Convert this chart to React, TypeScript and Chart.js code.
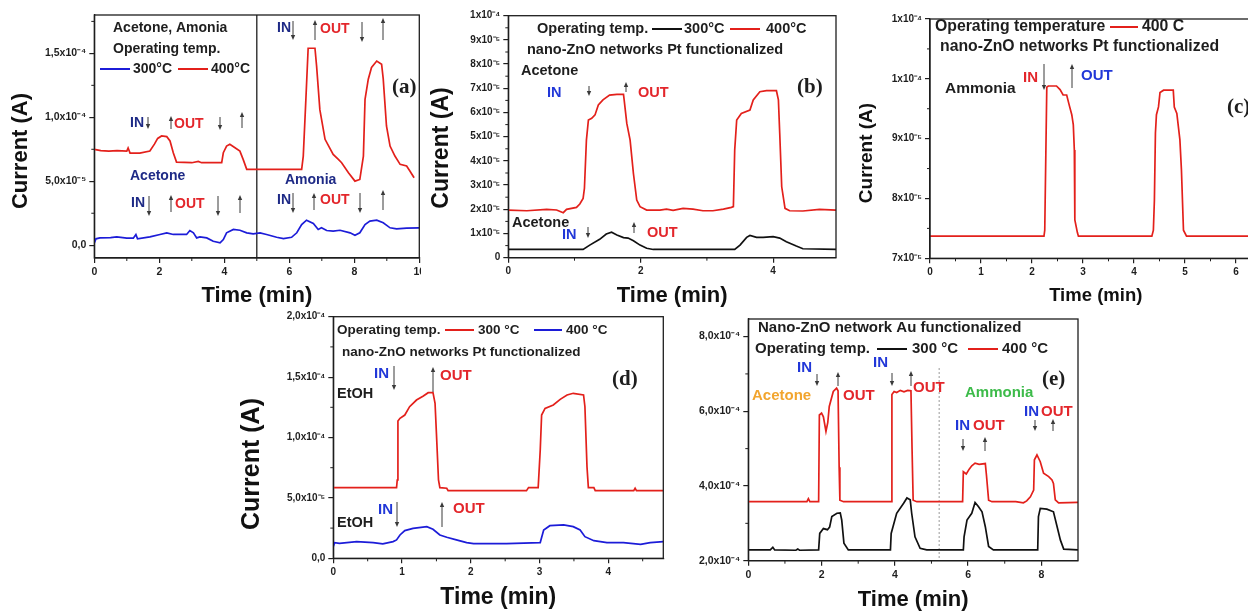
import React, { useEffect, useRef } from 'react';
import { Chart, registerables } from 'chart.js';

Chart.register(...registerables);

const SANS = '"Liberation Sans", Arial, Helvetica, sans-serif';
const SERIF = '"Liberation Serif", "Times New Roman", serif';

const RED = '#e3201b';
const BLUE = '#1c1cd8';
const BLACK = '#111111';
const NAVY = '#1e2a86';
const TXT_BLUE = '#2137d8';
const TXT_RED = '#e3262b';
const ORANGE = '#f2a52e';
const GREEN = '#3dbb4a';
const INK = '#1e1e1e';

type Pt = [number, number];

// ---------------- Panel (a) data ----------------
const aTimeTicks = [0, 2, 4, 6, 8, 10];
const aTimeLabels = ['0', '2', '4', '6', '8', '10'];
const aTimeMinor = [1, 3, 5, 7, 9];
const aCurrentTicks = [0, 5e-5, 1e-4, 1.5e-4];
const aCurrentLabels = ['0,0', '5,0x10⁻⁵', '1,0x10⁻⁴', '1,5x10⁻⁴'];
const aCurrentMinor = [2.5e-5, 7.5e-5, 1.25e-4, 1.75e-4];
const a400C: Pt[] = [
  [0, 7.49e-5], [0.2, 7.4e-5], [0.45, 7.35e-5], [0.7, 7.4e-5], [1.0, 7.36e-5], [1.04, 7.6e-5], [1.1, 7.2e-5],
  [1.4, 7.2e-5], [1.71, 7.36e-5], [1.85, 7.9e-5], [1.95, 8.35e-5], [2.07, 8.54e-5], [2.23, 8.49e-5],
  [2.33, 8.15e-5], [2.43, 7.23e-5], [2.53, 6.5e-5], [3.0, 6.45e-5], [3.2, 6.55e-5], [3.3, 6.45e-5],
  [3.92, 6.45e-5], [3.97, 7.23e-5], [4.07, 7.75e-5], [4.17, 7.89e-5], [4.33, 7.62e-5], [4.48, 7.36e-5],
  [4.58, 6.71e-5], [4.69, 5.93e-5], [5.5, 5.93e-5], [6.38, 5.93e-5], [6.43, 6.97e-5], [6.51, 11.4e-5],
  [6.58, 15.4e-5], [6.79, 15.4e-5], [6.84, 14.0e-5], [6.94, 10.6e-5], [7.1, 8.28e-5], [7.35, 7.1e-5],
  [7.51, 6.71e-5], [7.61, 6.45e-5], [7.82, 5.67e-5], [8.02, 5.01e-5], [8.17, 5.14e-5], [8.28, 6.97e-5],
  [8.33, 11.4e-5], [8.43, 12.98e-5], [8.53, 13.9e-5], [8.69, 14.4e-5], [8.84, 14.15e-5], [8.89, 13.0e-5],
  [8.99, 9.32e-5], [9.1, 7.75e-5], [9.25, 6.97e-5], [9.41, 6.32e-5], [9.61, 6.19e-5], [9.71, 5.8e-5],
  [9.84, 5.27e-5],
];
const a300C: Pt[] = [
  [0, 0.18e-5], [0.05, 0.5e-5], [0.17, 0.57e-5], [0.5, 0.6e-5], [0.69, 0.65e-5], [1.0, 0.55e-5],
  [1.2, 0.55e-5], [1.28, 0.84e-5], [1.33, 0.5e-5], [1.71, 0.65e-5], [2.02, 0.84e-5], [2.23, 0.97e-5],
  [2.43, 0.84e-5], [2.84, 0.84e-5], [2.94, 1.15e-5], [3.05, 0.97e-5], [3.15, 0.57e-5], [3.25, 0.65e-5],
  [3.46, 0.57e-5], [3.66, 0.31e-5], [3.87, 0.18e-5], [3.97, 0.44e-5], [4.07, 0.97e-5], [4.28, 1.23e-5],
  [4.48, 1.17e-5], [4.69, 0.97e-5], [4.89, 0.89e-5], [5.1, 0.97e-5], [5.3, 0.84e-5], [5.61, 0.62e-5],
  [5.82, 0.52e-5], [6.07, 0.62e-5], [6.23, 0.97e-5], [6.38, 1.62e-5], [6.53, 1.96e-5], [6.74, 1.7e-5],
  [6.89, 1.23e-5], [6.99, 1.36e-5], [7.15, 1.15e-5], [7.35, 1.1e-5], [7.56, 1.17e-5], [7.87, 0.97e-5],
  [8.02, 0.78e-5], [8.17, 0.97e-5], [8.33, 1.62e-5], [8.48, 1.88e-5], [8.69, 1.96e-5], [8.89, 1.75e-5],
  [9.1, 1.36e-5], [9.3, 1.28e-5], [9.61, 1.33e-5], [10, 1.36e-5],
];

// ---------------- Panel (b) data ----------------
const bTimeTicks = [0, 2, 4];
const bTimeLabels = ['0', '2', '4'];
const bTimeMinor = [1, 3];
const bCurrentTicks = [0, 1e-5, 2e-5, 3e-5, 4e-5, 5e-5, 6e-5, 7e-5, 8e-5, 9e-5, 1e-4];
const bCurrentLabels = ['0', '1x10⁻⁵', '2x10⁻⁵', '3x10⁻⁵', '4x10⁻⁵', '5x10⁻⁵', '6x10⁻⁵', '7x10⁻⁵', '8x10⁻⁵', '9x10⁻⁵', '1x10⁻⁴'];
const bCurrentMinor = [0.5e-5, 1.5e-5, 2.5e-5, 3.5e-5, 4.5e-5, 5.5e-5, 6.5e-5, 7.5e-5, 8.5e-5, 9.5e-5];
const b400C: Pt[] = [
  [0, 1.97e-5], [0.28, 1.94e-5], [0.58, 2.0e-5], [0.73, 1.97e-5], [0.83, 1.86e-5], [0.88, 2.0e-5],
  [1.03, 2.08e-5], [1.08, 2.22e-5], [1.13, 2.45e-5], [1.15, 2.87e-5], [1.18, 4.86e-5], [1.21, 5.69e-5],
  [1.26, 5.76e-5], [1.31, 5.9e-5], [1.36, 6.31e-5], [1.43, 6.52e-5], [1.53, 6.72e-5], [1.64, 6.75e-5],
  [1.74, 6.75e-5], [1.75, 6.52e-5], [1.79, 5.55e-5], [1.84, 4.86e-5], [1.89, 3.48e-5], [1.94, 2.38e-5],
  [1.99, 2.11e-5], [2.09, 1.97e-5], [2.29, 1.97e-5], [2.39, 2.01e-5], [2.49, 1.96e-5], [2.64, 2.04e-5],
  [2.79, 2.01e-5], [2.94, 1.94e-5], [3.09, 1.94e-5], [3.25, 2.01e-5], [3.37, 2.08e-5], [3.40, 2.11e-5],
  [3.42, 4.45e-5], [3.45, 5.69e-5], [3.52, 5.96e-5], [3.65, 6.1e-5], [3.70, 6.52e-5], [3.80, 6.86e-5],
  [3.90, 6.9e-5], [4.05, 6.9e-5], [4.08, 6.52e-5], [4.10, 5.14e-5], [4.13, 2.93e-5], [4.18, 2.04e-5],
  [4.25, 1.94e-5], [4.45, 1.93e-5], [4.70, 2.0e-5], [4.95, 1.97e-5],
];
const b300C: Pt[] = [
  [0, 0.34e-5], [1.13, 0.34e-5], [1.23, 0.52e-5], [1.38, 0.76e-5], [1.48, 0.98e-5], [1.56, 1.05e-5],
  [1.64, 0.94e-5], [1.74, 0.83e-5], [1.81, 0.81e-5], [1.89, 0.7e-5], [1.99, 0.52e-5], [2.09, 0.39e-5],
  [2.19, 0.34e-5], [3.42, 0.34e-5], [3.50, 0.52e-5], [3.60, 0.84e-5], [3.65, 0.92e-5], [3.75, 0.84e-5],
  [3.85, 0.84e-5], [4.0, 0.87e-5], [4.10, 0.81e-5], [4.2, 0.66e-5], [4.35, 0.48e-5], [4.45, 0.37e-5],
  [4.95, 0.34e-5],
];

// ---------------- Panel (c) data ----------------
const cTimeTicks = [0, 1, 2, 3, 4, 5, 6];
const cTimeLabels = ['0', '1', '2', '3', '4', '5', '6'];
const cTimeMinor = [0.5, 1.5, 2.5, 3.5, 4.5, 5.5];
const cCurrentTicks = [7e-5, 8e-5, 9e-5, 1e-4, 1.1e-4];
const cCurrentLabels = ['7x10⁻⁵', '8x10⁻⁵', '9x10⁻⁵', '1x10⁻⁴', '1x10⁻⁴'];
const cCurrentMinor = [7.5e-5, 8.5e-5, 9.5e-5, 1.05e-4];
const c400C: Pt[] = [
  [0, 7.37e-5], [2.235, 7.37e-5], [2.25, 7.47e-5], [2.29, 9.86e-5], [2.32, 9.88e-5], [2.48, 9.88e-5],
  [2.55, 9.82e-5], [2.61, 9.73e-5], [2.68, 9.73e-5], [2.73, 9.56e-5], [2.78, 9.40e-5], [2.81, 9.23e-5],
  [2.83, 8.81e-5], [2.84, 7.64e-5], [2.89, 7.43e-5], [2.91, 7.37e-5], [4.35, 7.37e-5], [4.38, 7.47e-5],
  [4.40, 7.97e-5], [4.42, 9.09e-5], [4.44, 9.40e-5], [4.48, 9.53e-5], [4.51, 9.77e-5], [4.58, 9.81e-5],
  [4.77, 9.81e-5], [4.79, 9.53e-5], [4.84, 9.42e-5], [4.90, 8.98e-5], [4.93, 8.48e-5], [4.97, 7.47e-5],
  [5.03, 7.37e-5], [6.5, 7.37e-5],
];

// ---------------- Panel (d) data ----------------
const dTimeTicks = [0, 1, 2, 3, 4];
const dTimeLabels = ['0', '1', '2', '3', '4'];
const dTimeMinor = [0.5, 1.5, 2.5, 3.5, 4.5];
const dCurrentTicks = [0, 5e-5, 1e-4, 1.5e-4, 2e-4];
const dCurrentLabels = ['0,0', '5,0x10⁻⁵', '1,0x10⁻⁴', '1,5x10⁻⁴', '2,0x10⁻⁴'];
const dCurrentMinor = [2.5e-5, 7.5e-5, 1.25e-4, 1.75e-4];
const d300C: Pt[] = [
  [0, 5.85e-5], [0.92, 5.85e-5], [0.93, 6.48e-5], [0.94, 11.37e-5], [0.97, 11.59e-5], [1.04, 11.86e-5],
  [1.11, 12.55e-5], [1.21, 13.1e-5], [1.31, 13.43e-5], [1.38, 13.71e-5], [1.45, 13.71e-5], [1.48, 12.83e-5],
  [1.50, 10.34e-5], [1.53, 6.48e-5], [1.55, 5.85e-5], [1.65, 5.8e-5], [1.67, 5.6e-5], [2.04, 5.6e-5],
  [2.81, 5.6e-5], [2.84, 5.85e-5], [2.98, 5.85e-5], [3.01, 8.97e-5], [3.03, 11.86e-5], [3.08, 12.41e-5],
  [3.20, 12.69e-5], [3.30, 13.16e-5], [3.40, 13.52e-5], [3.49, 13.66e-5], [3.64, 13.52e-5], [3.66, 12.55e-5],
  [3.69, 7.59e-5], [3.71, 5.85e-5], [3.79, 5.85e-5], [3.81, 5.6e-5], [4.37, 5.6e-5], [4.39, 5.8e-5],
  [4.41, 5.6e-5], [4.8, 5.6e-5],
];
const d400C: Pt[] = [
  [0, 0.97e-5], [0.02, 1.3e-5], [0.09, 1.24e-5], [0.34, 1.38e-5], [0.58, 1.3e-5], [0.72, 1.19e-5],
  [0.87, 1.38e-5], [0.92, 1.52e-5], [0.97, 1.93e-5], [1.04, 2.29e-5], [1.16, 2.48e-5], [1.36, 2.62e-5],
  [1.45, 2.4e-5], [1.55, 1.93e-5], [1.65, 1.74e-5], [1.79, 1.52e-5], [1.94, 1.3e-5], [2.04, 1.21e-5],
  [2.52, 1.21e-5], [3.01, 1.3e-5], [3.06, 2.34e-5], [3.15, 2.7e-5], [3.35, 2.76e-5], [3.49, 2.62e-5],
  [3.59, 2.34e-5], [3.66, 1.79e-5], [3.79, 1.46e-5], [3.98, 1.3e-5], [4.22, 1.3e-5], [4.47, 1.16e-5],
  [4.61, 1.3e-5], [4.8, 1.38e-5],
];

// ---------------- Panel (e) data ----------------
const eTimeTicks = [0, 2, 4, 6, 8];
const eTimeLabels = ['0', '2', '4', '6', '8'];
const eTimeMinor = [1, 3, 5, 7];
const eCurrentTicks = [2e-4, 4e-4, 6e-4, 8e-4];
const eCurrentLabels = ['2,0x10⁻⁴', '4,0x10⁻⁴', '6,0x10⁻⁴', '8,0x10⁻⁴'];
const eCurrentMinor = [3e-4, 5e-4, 7e-4];
const e400C: Pt[] = [
  [0, 3.58e-4], [1.6, 3.58e-4], [1.64, 3.66e-4], [1.68, 3.58e-4], [1.92, 3.58e-4], [1.94, 5.90e-4],
  [2.0, 5.95e-4], [2.05, 5.85e-4], [2.12, 5.46e-4], [2.17, 5.7e-4], [2.21, 6.13e-4], [2.32, 6.53e-4],
  [2.41, 6.62e-4], [2.45, 6.55e-4], [2.48, 4.5e-4], [2.50, 3.62e-4], [2.6, 3.58e-4], [3.9, 3.58e-4],
  [3.92, 6.45e-4], [3.98, 6.53e-4], [4.05, 6.5e-4], [4.15, 6.56e-4], [4.25, 6.52e-4], [4.35, 6.56e-4],
  [4.44, 6.55e-4], [4.47, 5.0e-4], [4.50, 3.62e-4], [4.6, 3.58e-4], [5.85, 3.58e-4], [5.87, 4.38e-4],
  [5.95, 4.32e-4], [6.03, 4.45e-4], [6.10, 4.54e-4], [6.19, 4.61e-4], [6.3, 4.58e-4], [6.47, 4.6e-4],
  [6.5, 4.3e-4], [6.56, 3.62e-4], [6.65, 3.58e-4], [7.3, 3.58e-4], [7.51, 3.55e-4], [7.6, 3.6e-4],
  [7.7, 3.71e-4], [7.79, 3.89e-4], [7.81, 4.70e-4], [7.88, 4.83e-4], [7.97, 4.65e-4], [8.06, 4.34e-4],
  [8.2, 4.25e-4], [8.29, 4.16e-4], [8.33, 4.07e-4], [8.38, 3.63e-4], [8.47, 3.55e-4], [9.0, 3.56e-4],
];
const e300C: Pt[] = [
  [0, 2.29e-4], [0.6, 2.29e-4], [0.67, 2.36e-4], [0.72, 2.29e-4], [1.3, 2.28e-4], [1.35, 2.31e-4],
  [1.4, 2.28e-4], [1.92, 2.29e-4], [1.95, 2.73e-4], [2.05, 2.86e-4], [2.16, 2.83e-4], [2.22, 2.9e-4],
  [2.28, 3.18e-4], [2.42, 3.27e-4], [2.51, 3.28e-4], [2.55, 3.09e-4], [2.61, 2.47e-4], [2.73, 2.29e-4],
  [3.88, 2.29e-4], [3.9, 2.73e-4], [4.05, 3.27e-4], [4.24, 3.54e-4], [4.33, 3.68e-4], [4.42, 3.63e-4],
  [4.46, 3.27e-4], [4.55, 2.64e-4], [4.69, 2.33e-4], [4.87, 2.29e-4], [5.87, 2.29e-4], [5.89, 2.64e-4],
  [5.97, 3.09e-4], [6.10, 3.27e-4], [6.19, 3.56e-4], [6.28, 3.45e-4], [6.38, 3.31e-4], [6.47, 2.91e-4],
  [6.56, 2.38e-4], [6.69, 2.29e-4], [7.9, 2.29e-4], [7.92, 3.18e-4], [7.97, 3.40e-4], [8.15, 3.38e-4],
  [8.33, 3.31e-4], [8.43, 2.91e-4], [8.52, 2.55e-4], [8.61, 2.31e-4], [9.0, 2.29e-4],
];

// ---------------- layout / decoration types ----------------
type Txt = { t: string; x: number; y: number; c: string; s: number; f?: string };
type Arr = { x: number; y1: number; y2: number };
type Leg = { x1: number; x2: number; y: number; c: string };
type VLine = { x: number; from?: number; color: string; width: number; dash?: number[] };
type Series = { label: string; data: Pt[]; color: string };
type Panel = {
  left: number; top: number; w: number; h: number;
  area: { x0: number; y0: number; x1: number; y1: number };
  xMin: number; xMax: number; yMin: number; yMax: number;
  xTicks: number[]; xLabels: string[]; xMinor: number[];
  yTicks: number[]; yLabels: string[]; yMinor: number[];
  tickSize: number; xTitleSize: number; xTitleY: number;
  yTitle?: { x: number; y: number; s: number };
  series: Series[]; texts: Txt[]; arrows: Arr[]; legend: Leg[]; vlines: VLine[];
  cover?: [number, number, number, number];
};

const t = (s: string, x: number, y: number, c: string, size: number, f?: string): Txt => ({ t: s, x, y, c, s: size, f });

const panels: Panel[] = [
  {
    left: 0, top: 0, w: 432, h: 312,
    area: { x0: 94.3, y0: 15, x1: 419.3, y1: 258 },
    xMin: 0, xMax: 10, yMin: -1e-5, yMax: 1.8e-4,
    xTicks: aTimeTicks, xLabels: aTimeLabels, xMinor: aTimeMinor,
    yTicks: aCurrentTicks, yLabels: aCurrentLabels, yMinor: aCurrentMinor,
    tickSize: 10.5, xTitleSize: 22, xTitleY: 296,
    yTitle: { x: 21, y: 151, s: 22 },
    series: [
      { label: '300°C', data: a300C, color: BLUE },
      { label: '400°C', data: a400C, color: RED },
    ],
    texts: [
      t('Acetone, Amonia', 113, 28, INK, 14),
      t('Operating temp.', 113, 49, INK, 14),
      t('300°C', 133, 69, INK, 14),
      t('400°C', 211, 69, INK, 14),
      t('(a)', 392, 88, INK, 21, 'serif'),
      t('IN', 130, 123, NAVY, 14), t('OUT', 174, 124, TXT_RED, 14),
      t('IN', 277, 28, NAVY, 14), t('OUT', 320, 29, TXT_RED, 14),
      t('Acetone', 130, 176, NAVY, 14),
      t('Amonia', 285, 180, NAVY, 14),
      t('IN', 131, 203, NAVY, 14), t('OUT', 175, 204, TXT_RED, 14),
      t('IN', 277, 200, NAVY, 14), t('OUT', 320, 200, TXT_RED, 14),
    ],
    arrows: [
      { x: 148, y1: 117, y2: 129 }, { x: 171, y1: 129, y2: 116 }, { x: 220, y1: 117, y2: 130 }, { x: 242, y1: 128, y2: 112 },
      { x: 293, y1: 21, y2: 40 }, { x: 315, y1: 40, y2: 20 }, { x: 362, y1: 22, y2: 42 }, { x: 383, y1: 40, y2: 18 },
      { x: 149, y1: 196, y2: 216 }, { x: 171, y1: 212, y2: 195 }, { x: 218, y1: 196, y2: 216 }, { x: 240, y1: 213, y2: 195 },
      { x: 293, y1: 193, y2: 213 }, { x: 314, y1: 210, y2: 193 }, { x: 360, y1: 193, y2: 213 }, { x: 383, y1: 210, y2: 190 },
    ],
    legend: [
      { x1: 100, x2: 130, y: 69, c: BLUE },
      { x1: 178, x2: 208, y: 69, c: RED },
    ],
    vlines: [{ x: 5, color: INK, width: 1.3 }],
  },
  {
    left: 421, top: 0, w: 421, h: 312,
    area: { x0: 508.3, y0: 15.7, x1: 836, y1: 257.7 },
    xMin: 0, xMax: 4.95, yMin: 0, yMax: 1e-4,
    xTicks: bTimeTicks, xLabels: bTimeLabels, xMinor: bTimeMinor,
    yTicks: bCurrentTicks, yLabels: bCurrentLabels, yMinor: bCurrentMinor,
    tickSize: 10, xTitleSize: 22, xTitleY: 296,
    yTitle: { x: 442, y: 148, s: 23 },
    series: [
      { label: '300°C', data: b300C, color: BLACK },
      { label: '400°C', data: b400C, color: RED },
    ],
    texts: [
      t('Operating temp.', 537, 29, INK, 14.5),
      t('300°C', 684, 29, INK, 14.5),
      t('400°C', 766, 29, INK, 14.5),
      t('nano-ZnO networks Pt functionalized', 527, 50, INK, 14.5),
      t('Acetone', 521, 71, INK, 14.5),
      t('(b)', 797, 88, INK, 21, 'serif'),
      t('IN', 547, 93, TXT_BLUE, 14.5), t('OUT', 638, 93, TXT_RED, 14.5),
      t('Acetone', 512, 223, INK, 14.5),
      t('IN', 562, 235, TXT_BLUE, 14.5), t('OUT', 647, 233, TXT_RED, 14.5),
    ],
    arrows: [
      { x: 589, y1: 86, y2: 96 }, { x: 626, y1: 92, y2: 82 },
      { x: 588, y1: 227, y2: 238 }, { x: 634, y1: 233, y2: 222 },
    ],
    legend: [
      { x1: 652, x2: 682, y: 29, c: BLACK },
      { x1: 730, x2: 760, y: 29, c: RED },
    ],
    vlines: [],
    cover: [0, 0, 12, 300],
  },
  {
    left: 842, top: 0, w: 430, h: 312,
    area: { x0: 930, y0: 19, x1: 1261.5, y1: 258.3 },
    xMin: 0, xMax: 6.5, yMin: 7e-5, yMax: 1.1e-4,
    xTicks: cTimeTicks, xLabels: cTimeLabels, xMinor: cTimeMinor,
    yTicks: cCurrentTicks, yLabels: cCurrentLabels, yMinor: cCurrentMinor,
    tickSize: 10, xTitleSize: 18.5, xTitleY: 296,
    yTitle: { x: 867, y: 153, s: 19 },
    series: [{ label: '400 C', data: c400C, color: RED }],
    texts: [
      t('Operating temperature', 935, 27, INK, 15.8),
      t('400 C', 1142, 27, INK, 15.8),
      t('nano-ZnO networks Pt functionalized', 940, 47, INK, 15.8),
      t('IN', 1023, 78, TXT_RED, 15), t('OUT', 1081, 76, TXT_BLUE, 15),
      t('Ammonia', 945, 89, INK, 15.5),
      t('(c)', 1227, 108, INK, 21, 'serif'),
    ],
    arrows: [{ x: 1044, y1: 64, y2: 90 }, { x: 1072, y1: 88, y2: 64 }],
    legend: [{ x1: 1110, x2: 1138, y: 27, c: RED }],
    vlines: [],
  },
  {
    left: 240, top: 300, w: 428, h: 312,
    area: { x0: 333.3, y0: 316.7, x1: 663.3, y1: 558.3 },
    xMin: 0, xMax: 4.8, yMin: 0, yMax: 2e-4,
    xTicks: dTimeTicks, xLabels: dTimeLabels, xMinor: dTimeMinor,
    yTicks: dCurrentTicks, yLabels: dCurrentLabels, yMinor: dCurrentMinor,
    tickSize: 10, xTitleSize: 23, xTitleY: 598,
    yTitle: { x: 252, y: 464, s: 25 },
    series: [
      { label: '300 °C', data: d300C, color: RED },
      { label: '400 °C', data: d400C, color: BLUE },
    ],
    texts: [
      t('Operating temp.', 337, 330, INK, 13.5),
      t('300 °C', 478, 330, INK, 13.5),
      t('400 °C', 566, 330, INK, 13.5),
      t('nano-ZnO networks Pt functionalized', 342, 352, INK, 13.5),
      t('IN', 374, 374, TXT_BLUE, 15), t('OUT', 440, 376, TXT_RED, 15),
      t('EtOH', 337, 394, INK, 14.5),
      t('(d)', 612, 380, INK, 21, 'serif'),
      t('IN', 378, 510, TXT_BLUE, 15), t('OUT', 453, 509, TXT_RED, 15),
      t('EtOH', 337, 523, INK, 14.5),
    ],
    arrows: [
      { x: 394, y1: 366, y2: 390 }, { x: 433, y1: 392, y2: 367 },
      { x: 397, y1: 502, y2: 527 }, { x: 442, y1: 527, y2: 502 },
    ],
    legend: [
      { x1: 445, x2: 474, y: 330, c: RED },
      { x1: 534, x2: 562, y: 330, c: BLUE },
    ],
    vlines: [],
  },
  {
    left: 665, top: 300, w: 420, h: 312,
    area: { x0: 748.3, y0: 319, x1: 1078, y1: 560.7 },
    xMin: 0, xMax: 9, yMin: 2e-4, yMax: 8.47e-4,
    xTicks: eTimeTicks, xLabels: eTimeLabels, xMinor: eTimeMinor,
    yTicks: eCurrentTicks, yLabels: eCurrentLabels, yMinor: eCurrentMinor,
    tickSize: 10.5, xTitleSize: 22, xTitleY: 600,
    series: [
      { label: '300 °C', data: e300C, color: BLACK },
      { label: '400 °C', data: e400C, color: RED },
    ],
    texts: [
      t('Nano-ZnO network Au functionalized', 758, 328, INK, 15),
      t('Operating temp.', 755, 349, INK, 15),
      t('300 °C', 912, 349, INK, 15),
      t('400 °C', 1002, 349, INK, 15),
      t('IN', 797, 368, TXT_BLUE, 15),
      t('Acetone', 752, 396, ORANGE, 15),
      t('OUT', 843, 396, TXT_RED, 15),
      t('IN', 873, 363, TXT_BLUE, 15),
      t('OUT', 913, 388, TXT_RED, 15),
      t('(e)', 1042, 380, INK, 21, 'serif'),
      t('Ammonia', 965, 393, GREEN, 15),
      t('IN', 955, 426, TXT_BLUE, 15), t('OUT', 973, 426, TXT_RED, 15),
      t('IN', 1024, 412, TXT_BLUE, 15), t('OUT', 1041, 412, TXT_RED, 15),
    ],
    arrows: [
      { x: 817, y1: 374, y2: 386 }, { x: 838, y1: 386, y2: 372 },
      { x: 892, y1: 373, y2: 386 }, { x: 911, y1: 386, y2: 371 },
      { x: 963, y1: 439, y2: 451 }, { x: 985, y1: 451, y2: 437 },
      { x: 1035, y1: 420, y2: 431 }, { x: 1053, y1: 431, y2: 419 },
    ],
    legend: [
      { x1: 877, x2: 907, y: 349, c: BLACK },
      { x1: 968, x2: 998, y: 349, c: RED },
    ],
    vlines: [{ x: 5.21, from: 368, color: '#9a9a9a', width: 1, dash: [2, 2] }],
  },
];

function makeOverlay(p: Panel) {
  return {
    id: 'overlay',
    beforeDraw(chart: any) {
      if (!p.cover) return;
      const ctx = chart.ctx;
      ctx.save();
      ctx.fillStyle = '#ffffff';
      ctx.fillRect(p.cover[0], p.cover[1], p.cover[2], p.cover[3]);
      ctx.restore();
    },
    beforeDatasetsDraw(chart: any) {
      const ctx = chart.ctx;
      const a = chart.chartArea;
      const xs = chart.scales.x;
      p.vlines.forEach((vl) => {
        const px = xs.getPixelForValue(vl.x);
        ctx.save();
        ctx.strokeStyle = vl.color;
        ctx.lineWidth = vl.width;
        ctx.setLineDash(vl.dash || []);
        ctx.beginPath();
        ctx.moveTo(px, vl.from != null ? vl.from - p.top : a.top);
        ctx.lineTo(px, a.bottom);
        ctx.stroke();
        ctx.restore();
      });
    },
    afterDraw(chart: any) {
      const ctx = chart.ctx;
      const a = chart.chartArea;
      const xs = chart.scales.x;
      const ys = chart.scales.y;
      const ox = p.left;
      const oy = p.top;
      ctx.save();
      // frame
      ctx.strokeStyle = INK;
      ctx.lineWidth = 1.3;
      ctx.strokeRect(a.left, a.top, a.right - a.left, a.bottom - a.top);
      // minor ticks
      ctx.lineWidth = 1;
      ctx.beginPath();
      p.xMinor.forEach((v) => {
        const px = xs.getPixelForValue(v);
        ctx.moveTo(px, a.bottom);
        ctx.lineTo(px, a.bottom + 3);
      });
      p.yMinor.forEach((v) => {
        const py = ys.getPixelForValue(v);
        ctx.moveTo(a.left, py);
        ctx.lineTo(a.left - 3, py);
      });
      ctx.stroke();
      // legend samples
      p.legend.forEach((l) => {
        ctx.strokeStyle = l.c;
        ctx.lineWidth = 2;
        ctx.beginPath();
        ctx.moveTo(l.x1 - ox, l.y - oy);
        ctx.lineTo(l.x2 - ox, l.y - oy);
        ctx.stroke();
      });
      // arrows
      ctx.strokeStyle = '#3a3a3a';
      ctx.fillStyle = '#3a3a3a';
      ctx.lineWidth = 1;
      p.arrows.forEach((ar) => {
        const x = ar.x - ox;
        const y1 = ar.y1 - oy;
        const y2 = ar.y2 - oy;
        const dir = Math.sign(y2 - y1);
        ctx.beginPath();
        ctx.moveTo(x, y1);
        ctx.lineTo(x, y2 - dir * 3);
        ctx.stroke();
        ctx.beginPath();
        ctx.moveTo(x, y2);
        ctx.lineTo(x - 2.2, y2 - dir * 5);
        ctx.lineTo(x + 2.2, y2 - dir * 5);
        ctx.closePath();
        ctx.fill();
      });
      // texts
      ctx.textBaseline = 'middle';
      ctx.textAlign = 'left';
      p.texts.forEach((tx) => {
        ctx.fillStyle = tx.c;
        ctx.font = `bold ${tx.s}px ${tx.f === 'serif' ? SERIF : SANS}`;
        ctx.fillText(tx.t, tx.x - ox, tx.y - oy);
      });
      // y title
      if (p.yTitle) {
        ctx.save();
        ctx.translate(p.yTitle.x - ox, p.yTitle.y - oy);
        ctx.rotate(-Math.PI / 2);
        ctx.textAlign = 'center';
        ctx.textBaseline = 'middle';
        ctx.fillStyle = '#111111';
        ctx.font = `bold ${p.yTitle.s}px ${SANS}`;
        ctx.fillText('Current (A)', 0, 0);
        ctx.restore();
      }
      ctx.restore();
    },
  };
}

function buildConfig(p: Panel): any {
  const tickFont = { family: SANS, size: p.tickSize, weight: 'bold' as const };
  const grid = { display: true, drawOnChartArea: false, drawTicks: true, tickLength: 5, color: INK, lineWidth: 1.2 };
  const border = { display: true, color: INK, width: 1.3 };
  const xTitleLH = p.xTitleSize * 1.2;
  const xTitlePad = p.h - xTitleLH / 2 - (p.xTitleY - p.top);
  return {
    type: 'line',
    data: {
      datasets: p.series.map((s) => ({
        label: s.label,
        data: s.data.map(([x, y]) => ({ x, y })),
        borderColor: s.color,
        backgroundColor: s.color,
        borderWidth: 1.7,
        pointRadius: 0,
        fill: false,
        tension: 0,
      })),
    },
    options: {
      animation: false,
      responsive: false,
      devicePixelRatio: 1,
      events: [],
      layout: {
        padding: { left: 0, top: p.area.y0 - p.top, right: p.left + p.w - p.area.x1, bottom: 0 },
      },
      plugins: { legend: { display: false }, tooltip: { enabled: false }, title: { display: false } },
      scales: {
        x: {
          type: 'linear',
          min: p.xMin,
          max: p.xMax,
          afterFit: (s: any) => { s.height = p.top + p.h - p.area.y1; },
          afterBuildTicks: (s: any) => { s.ticks = p.xTicks.map((v) => ({ value: v })); },
          ticks: {
            callback: (_v: any, i: number) => p.xLabels[i] ?? '',
            font: tickFont, color: INK, padding: 3, maxRotation: 0, minRotation: 0, autoSkip: false,
          },
          grid, border,
          title: {
            display: true, text: 'Time (min)', color: '#111111',
            font: { family: SANS, size: p.xTitleSize, weight: 'bold' },
            padding: { top: 0, bottom: xTitlePad },
          },
        },
        y: {
          type: 'linear',
          min: p.yMin,
          max: p.yMax,
          afterFit: (s: any) => { s.width = p.area.x0 - p.left; },
          afterBuildTicks: (s: any) => { s.ticks = p.yTicks.map((v) => ({ value: v })); },
          ticks: {
            callback: (_v: any, i: number) => p.yLabels[i] ?? '',
            font: tickFont, color: INK, padding: 3, autoSkip: false,
          },
          grid, border,
          title: { display: false },
        },
      },
    },
    plugins: [makeOverlay(p)],
  };
}

function PanelChart({ p }: { p: Panel }) {
  const ref = useRef<HTMLCanvasElement | null>(null);
  useEffect(() => {
    if (!ref.current) return;
    const chart = new Chart(ref.current, buildConfig(p));
    return () => chart.destroy();
  }, [p]);
  return (
    <canvas
      ref={ref}
      width={p.w}
      height={p.h}
      style={{ position: 'absolute', left: p.left, top: p.top, width: p.w, height: p.h }}
    />
  );
}

export default function App() {
  return (
    <div
      style={{
        position: 'fixed', left: 0, top: 0, width: 1248, height: 612,
        overflow: 'hidden', background: '#ffffff',
      }}
    >
      {panels.map((p, i) => (
        <PanelChart key={i} p={p} />
      ))}
    </div>
  );
}
